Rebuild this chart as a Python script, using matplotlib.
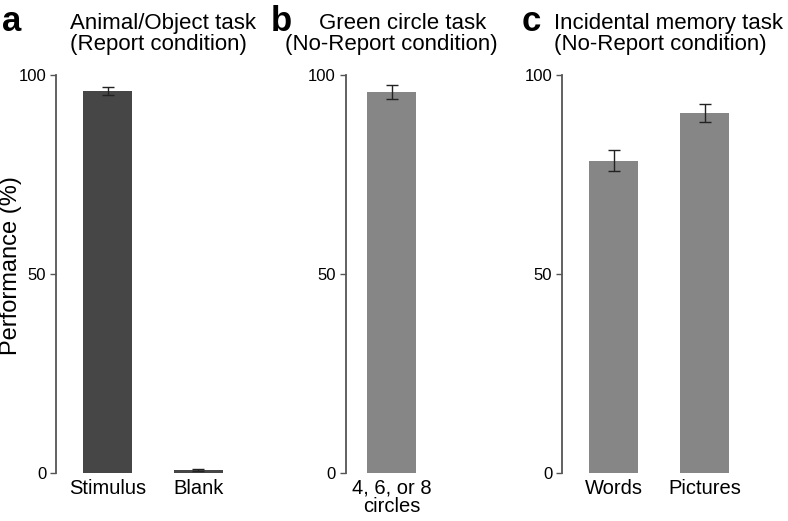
import matplotlib
matplotlib.use("Agg")
import matplotlib.pyplot as plt

plt.rcParams.update({"font.family": ["Liberation Sans", "DejaVu Sans"]})

# panel a: Animal/Object task (Report condition)
a_labels = ["Stimulus", "Blank"]
a_values = [96.1, 0.8]
a_errors = [1.0, 0.3]

# panel b: Green circle task (No-Report condition)
b_labels = ["4, 6, or 8\ncircles"]
b_values = [95.7]
b_errors = [1.7]

# panel c: Incidental memory task (No-Report condition)
c_labels = ["Words", "Pictures"]
c_values = [78.5, 90.4]
c_errors = [2.6, 2.2]

yticks = [0, 50, 100]

W, H = 788, 521
fig = plt.figure(figsize=(W / 100, H / 100), dpi=100)

def px_axes(left, right, bottom=473, top=75):
    return fig.add_axes([left / W, 1 - bottom / H, (right - left) / W, (bottom - top) / H])

panels = [
    # (axes, labels, values, errors, bar colour, xlim)
    (px_axes(56, 248), a_labels, a_values, a_errors, "#464646", (-0.57, 1.55)),
    (px_axes(345.5, 446), b_labels, b_values, b_errors, "#868686", (-0.51, 0.6)),
    (px_axes(562, 754.6), c_labels, c_values, c_errors, "#868686", (-0.566, 1.55)),
]

for ax, labels, vals, errs, col, xl in panels:
    x = list(range(len(vals)))
    ax.bar(x, vals, width=0.54, color=col, edgecolor="none", zorder=2)
    ax.errorbar(x, vals, yerr=errs, fmt="none", ecolor="#222222",
                elinewidth=1.0, capsize=4, capthick=1.0, zorder=3)
    ax.set_xlim(*xl)
    ax.set_ylim(0, 100)
    ax.set_yticks(yticks)
    ax.set_xticks(x)
    ax.set_xticklabels(labels, fontsize=14.5, linespacing=0.95)
    for s in ("top", "right", "bottom"):
        ax.spines[s].set_visible(False)
    ax.spines["left"].set_color("#555555")
    ax.spines["left"].set_linewidth(1.3)
    ax.tick_params(axis="y", length=4, width=1.0, color="#555555",
                   labelsize=12, pad=3)
    ax.tick_params(axis="x", length=0, pad=4)

# y label placed by hand so it stays inside the figure
fig.text(11 / W, 1 - 266 / H, "Performance (%)", fontsize=17, rotation=90,
         ha="center", va="center")

# panel titles, one line at a time
titles = [
    ("a", 2, "Animal/Object task", 163.5, "(Report condition)", 158),
    ("b", 271, "Green circle task", 403, "(No-Report condition)", 391),
    ("c", 522, "Incidental memory task", 668, "(No-Report condition)", 660),
]
for letter, lx, line1, x1, line2, x2 in titles:
    fig.text(lx / W, 1 - 31 / H, letter, fontsize=25, fontweight="bold",
             ha="left", va="baseline")
    fig.text(x1 / W, 1 - 29 / H, line1, fontsize=16, ha="center", va="baseline")
    fig.text(x2 / W, 1 - 50 / H, line2, fontsize=16, ha="center", va="baseline")

fig.savefig("out.png", dpi=100)
